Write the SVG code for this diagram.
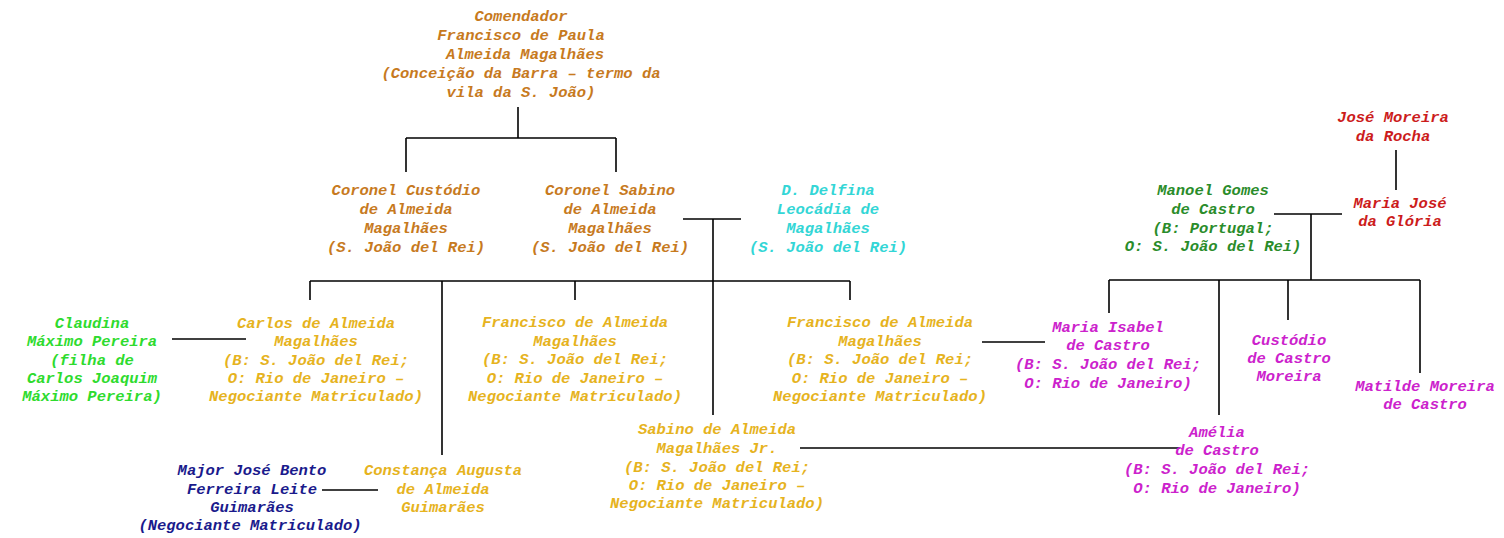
<svg xmlns="http://www.w3.org/2000/svg" width="1504" height="538" viewBox="0 0 1504 538">
<style>
text{font-family:"Liberation Mono","DejaVu Sans Mono",monospace;font-style:italic;font-weight:bold;font-size:15.5px;text-anchor:middle}
.top{font-size:16.5px}
.brown{fill:#C77A1E}
.gold{fill:#E6B31E}
.cyan{fill:#33D6D6}
.lgreen{fill:#2EDB2E}
.dgreen{fill:#2A8C2A}
.red{fill:#CC1C1C}
.mag{fill:#CC22CC}
.navy{fill:#1A1A8C}
.c line{stroke:#000;stroke-width:1.6}
</style>
<rect width="1504" height="538" fill="#fff"/>
<g class="c">
<line x1="518" y1="107" x2="518" y2="138"/>
<line x1="406" y1="138" x2="616" y2="138"/>
<line x1="406" y1="138" x2="406" y2="172"/>
<line x1="616" y1="138" x2="616" y2="172"/>
<line x1="683" y1="219" x2="741" y2="219"/>
<line x1="713" y1="219" x2="713" y2="415"/>
<line x1="310" y1="281" x2="850" y2="281"/>
<line x1="310" y1="281" x2="310" y2="300"/>
<line x1="442" y1="281" x2="442" y2="455"/>
<line x1="575" y1="281" x2="575" y2="300"/>
<line x1="850" y1="281" x2="850" y2="300"/>
<line x1="172" y1="339" x2="246" y2="339"/>
<line x1="982" y1="342" x2="1045" y2="342"/>
<line x1="322" y1="490" x2="378" y2="490"/>
<line x1="800" y1="448" x2="1180" y2="448"/>
<line x1="1396" y1="150" x2="1396" y2="190"/>
<line x1="1274" y1="214" x2="1342" y2="214"/>
<line x1="1311" y1="214" x2="1311" y2="280"/>
<line x1="1109" y1="280" x2="1420" y2="280"/>
<line x1="1109" y1="280" x2="1109" y2="313"/>
<line x1="1219" y1="280" x2="1219" y2="415"/>
<line x1="1288" y1="280" x2="1288" y2="320"/>
<line x1="1420" y1="280" x2="1420" y2="373"/>
</g>
<g id="comendador" class="brown top">
<text x="521" y="21">Comendador</text>
<text x="521" y="40">Francisco de Paula</text>
<text x="525" y="59">Almeida Magalhães</text>
<text x="521" y="78">(Conceição da Barra – termo da</text>
<text x="521" y="97">vila da S. João)</text>
</g>
<g id="custodio" class="brown">
<text x="406" y="195">Coronel Custódio</text>
<text x="406" y="214">de Almeida</text>
<text x="406" y="233">Magalhães</text>
<text x="406" y="252">(S. João del Rei)</text>
</g>
<g id="sabino" class="brown">
<text x="610" y="195">Coronel Sabino</text>
<text x="610" y="214">de Almeida</text>
<text x="610" y="233">Magalhães</text>
<text x="610" y="252">(S. João del Rei)</text>
</g>
<g id="delfina" class="cyan">
<text x="828" y="195">D. Delfina</text>
<text x="828" y="214">Leocádia de</text>
<text x="828" y="233">Magalhães</text>
<text x="828" y="252">(S. João del Rei)</text>
</g>
<g id="claudina" class="lgreen">
<text x="92" y="328">Claudina</text>
<text x="92" y="346">Máximo Pereira</text>
<text x="92" y="365">(filha de</text>
<text x="92" y="383">Carlos Joaquim</text>
<text x="92" y="401">Máximo Pereira)</text>
</g>
<g id="carlos" class="gold">
<text x="316" y="328">Carlos de Almeida</text>
<text x="316" y="346">Magalhães</text>
<text x="316" y="365">(B: S. João del Rei;</text>
<text x="316" y="383">O: Rio de Janeiro –</text>
<text x="316" y="401">Negociante Matriculado)</text>
</g>
<g id="francisco1" class="gold">
<text x="575" y="327">Francisco de Almeida</text>
<text x="575" y="346">Magalhães</text>
<text x="575" y="364">(B: S. João del Rei;</text>
<text x="575" y="383">O: Rio de Janeiro –</text>
<text x="575" y="401">Negociante Matriculado)</text>
</g>
<g id="francisco2" class="gold">
<text x="880" y="327">Francisco de Almeida</text>
<text x="880" y="346">Magalhães</text>
<text x="880" y="364">(B: S. João del Rei;</text>
<text x="880" y="383">O: Rio de Janeiro –</text>
<text x="880" y="401">Negociante Matriculado)</text>
</g>
<g id="constanca" class="gold">
<text x="443" y="475">Constança Augusta</text>
<text x="443" y="494">de Almeida</text>
<text x="443" y="512">Guimarães</text>
</g>
<g id="major" class="navy">
<text x="252" y="475">Major José Bento</text>
<text x="252" y="494">Ferreira Leite</text>
<text x="252" y="512">Guimarães</text>
<text x="250" y="530">(Negociante Matriculado)</text>
</g>
<g id="sabinojr" class="gold">
<text x="717" y="434">Sabino de Almeida</text>
<text x="717" y="453">Magalhães Jr.</text>
<text x="717" y="472">(B: S. João del Rei;</text>
<text x="717" y="490">O: Rio de Janeiro –</text>
<text x="717" y="508">Negociante Matriculado)</text>
</g>
<g id="amelia" class="mag">
<text x="1217" y="437">Amélia</text>
<text x="1217" y="455">de Castro</text>
<text x="1217" y="474">(B: S. João del Rei;</text>
<text x="1217" y="493">O: Rio de Janeiro)</text>
</g>
<g id="josemoreira" class="red">
<text x="1393" y="122">José Moreira</text>
<text x="1393" y="141">da Rocha</text>
</g>
<g id="mariajose" class="red">
<text x="1400" y="208">Maria José</text>
<text x="1400" y="226">da Glória</text>
</g>
<g id="manoel" class="dgreen">
<text x="1213" y="195">Manoel Gomes</text>
<text x="1213" y="214">de Castro</text>
<text x="1213" y="233">(B: Portugal;</text>
<text x="1213" y="251">O: S. João del Rei)</text>
</g>
<g id="mariaisabel" class="mag">
<text x="1108" y="332">Maria Isabel</text>
<text x="1108" y="350">de Castro</text>
<text x="1108" y="369">(B: S. João del Rei;</text>
<text x="1108" y="388">O: Rio de Janeiro)</text>
</g>
<g id="custodiocastro" class="mag">
<text x="1289" y="345">Custódio</text>
<text x="1289" y="363">de Castro</text>
<text x="1289" y="381">Moreira</text>
</g>
<g id="matilde" class="mag">
<text x="1425" y="391">Matilde Moreira</text>
<text x="1425" y="409">de Castro</text>
</g>
</svg>
